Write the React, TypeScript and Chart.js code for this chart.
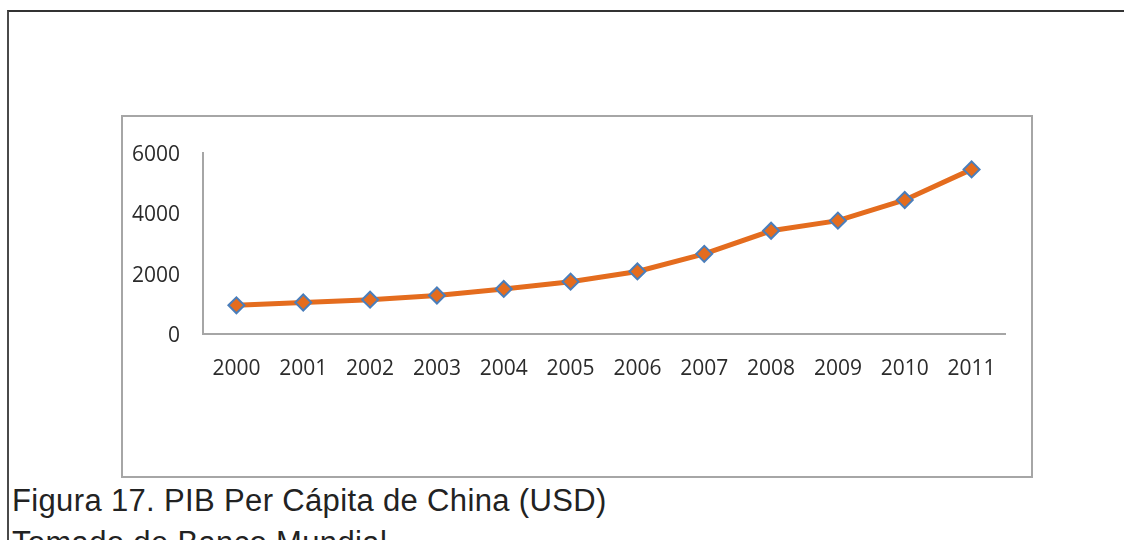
import React, { useEffect, useRef } from "react";
import { Chart, registerables } from "chart.js";

Chart.register(...registerables);

const years = ["2000", "2001", "2002", "2003", "2004", "2005", "2006", "2007", "2008", "2009", "2010", "2011"];
const pibPerCapita = [949, 1042, 1135, 1274, 1490, 1731, 2069, 2651, 3414, 3749, 4433, 5445];
const yMin = 0;
const yMax = 6000;
const yStep = 2000;
const captionLine1 = "Figura 17. PIB Per Cápita de China (USD)";
const captionLine2 = "Tomado de Banco Mundial";

const LINE_COLOR = "#e46c1e";
const MARKER_BORDER = "#4a7ebb";
const AXIS_COLOR = "#a6a6a6";
const TEXT_COLOR = "#2b2b2b";

export default function App() {
  const canvasRef = useRef<HTMLCanvasElement | null>(null);

  useEffect(() => {
    const canvas = canvasRef.current;
    if (!canvas) return;
    const chart = new Chart(canvas, {
      type: "line",
      data: {
        labels: years,
        datasets: [
          {
            data: pibPerCapita,
            borderColor: LINE_COLOR,
            borderWidth: 5,
            backgroundColor: LINE_COLOR,
            pointStyle: "rectRot",
            pointRadius: 8,
            pointBorderWidth: 2,
            pointBorderColor: MARKER_BORDER,
            pointBackgroundColor: LINE_COLOR,
            tension: 0,
            fill: false,
          },
        ],
      },
      options: {
        animation: false,
        responsive: false,
        maintainAspectRatio: false,
        layout: { padding: { left: 0, right: 26, top: 33, bottom: 0 } },
        plugins: {
          legend: { display: false },
          title: { display: false },
          tooltip: { enabled: false },
        },
        scales: {
          x: {
            offset: true,
            grid: { display: false, drawTicks: false },
            border: { display: true, color: AXIS_COLOR, width: 2 },
            ticks: {
              color: TEXT_COLOR,
              font: { family: "'Open Sans'", size: 21 },
              padding: 22,
              maxRotation: 0,
              autoSkip: false,
            },
            afterFit: (scale: any) => {
              scale.height = 142;
            },
          },
          y: {
            min: yMin,
            max: yMax,
            grid: { display: false, drawTicks: false },
            border: { display: true, color: AXIS_COLOR, width: 2 },
            ticks: {
              stepSize: yStep,
              color: TEXT_COLOR,
              font: { family: "'Open Sans'", size: 21 },
              padding: 23,
              labelOffset: 2,
              callback: (value: any) => String(value),
            },
            afterFit: (scale: any) => {
              scale.width = 80;
            },
          },
        },
      },
    });
    return () => chart.destroy();
  }, []);

  return (
    <div
      style={{
        position: "fixed",
        left: 0,
        top: 0,
        width: 1124,
        height: 540,
        overflow: "hidden",
        background: "#ffffff",
      }}
    >
      <div
        style={{
          position: "absolute",
          left: 7,
          top: 10,
          width: 1200,
          height: 600,
          borderLeft: "2px solid #4a4a4a",
          borderTop: "2px solid #333333",
        }}
      />
      <div
        style={{
          position: "absolute",
          left: 121,
          top: 115,
          width: 908,
          height: 359,
          border: "2px solid " + AXIS_COLOR,
          background: "#ffffff",
        }}
      >
        <canvas
          ref={canvasRef}
          width={908}
          height={359}
          style={{ display: "block", width: 908, height: 359 }}
        />
      </div>
      <div
        style={{
          position: "absolute",
          left: 12,
          top: 480,
          fontFamily: "'Liberation Sans', Arial, sans-serif",
          fontSize: 31,
          lineHeight: "42px",
          letterSpacing: "0.35px",
          color: "#222222",
          whiteSpace: "nowrap",
        }}
      >
        <div>{captionLine1}</div>
        <div>{captionLine2}</div>
      </div>
    </div>
  );
}
